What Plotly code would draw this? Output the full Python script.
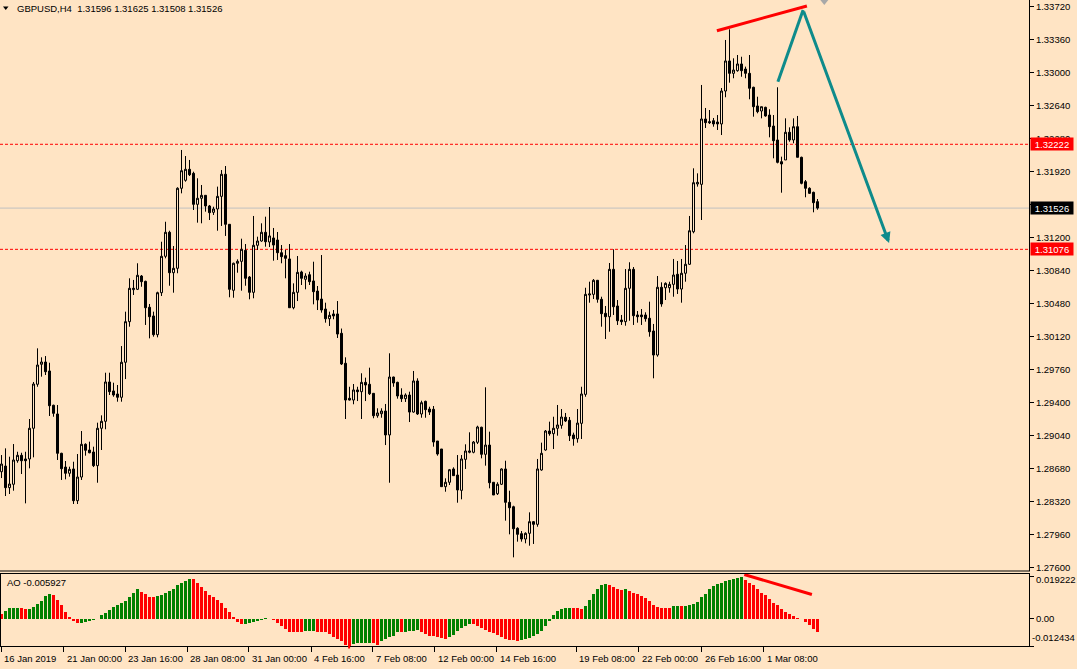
import plotly.graph_objects as go

# ---------------- data ----------------
symbol = "GBPUSD,H4"

opens = [
    1.28941, 1.28650, 1.28712, 1.28476, 1.28513, 1.28770, 1.28829, 1.28789, 1.28789, 1.29124,
    1.29604, 1.29822, 1.29847, 1.29749, 1.29375, 1.29280, 1.28851, 1.28701, 1.28633, 1.28680,
    1.28334, 1.28592, 1.28949, 1.28887, 1.28865, 1.28716, 1.29124, 1.29200, 1.29629, 1.29531,
    1.29498, 1.29462, 1.29844, 1.30287, 1.30636, 1.30640, 1.30785, 1.30727, 1.30444, 1.30349,
    1.30145, 1.30603, 1.31000, 1.31262, 1.30821, 1.30869, 1.31742, 1.31829, 1.31949, 1.31905,
    1.31567, 1.31633, 1.31665, 1.31549, 1.31480, 1.31516, 1.31654, 1.31895, 1.31349, 1.30629,
    1.30924, 1.30945, 1.31065, 1.30774, 1.30607, 1.31120, 1.31167, 1.31262, 1.31156, 1.31200,
    1.31178, 1.31039, 1.31007, 1.30971, 1.30439, 1.30607, 1.30829, 1.30749, 1.30799, 1.30731,
    1.30621, 1.30534, 1.30425, 1.30319, 1.30371, 1.30371, 1.30160, 1.29833, 1.29451, 1.29432,
    1.29542, 1.29523, 1.29625, 1.29604, 1.29505, 1.29261, 1.29283, 1.29312, 1.29051, 1.29683,
    1.29625, 1.29487, 1.29447, 1.29487, 1.29301, 1.29640, 1.29280, 1.29418, 1.29334, 1.29331,
    1.28985, 1.28898, 1.28487, 1.28535, 1.28680, 1.28614, 1.28447, 1.28785, 1.28862, 1.28862,
    1.28971, 1.29135, 1.28840, 1.28941, 1.28535, 1.28410, 1.28513, 1.28680, 1.28316, 1.28268,
    1.28033, 1.27974, 1.27916, 1.27978, 1.28105, 1.28076, 1.28669, 1.28887, 1.29094, 1.29065,
    1.29124, 1.29156, 1.29244, 1.29211, 1.29051, 1.29010, 1.29178, 1.29494, 1.30578, 1.30585,
    1.30738, 1.30531, 1.30378, 1.30341, 1.30858, 1.30458, 1.30305, 1.30287, 1.30651, 1.30858,
    1.30360, 1.30360, 1.30360, 1.30324, 1.30185, 1.29923, 1.30662, 1.30657, 1.30657, 1.30694,
    1.30804, 1.30643, 1.30815, 1.30913, 1.31268, 1.31789, 1.31785, 1.32498, 1.32469, 1.32479,
    1.32465, 1.32444, 1.32803, 1.33131, 1.32996, 1.33025, 1.33098, 1.33043, 1.32996, 1.32844,
    1.32640, 1.32585, 1.32625, 1.32541, 1.32421, 1.32269, 1.32032, 1.32051, 1.32353, 1.32269,
    1.32414, 1.32080, 1.31814, 1.31742, 1.31698, 1.31596,
]

highs = [
    1.28996, 1.28832, 1.28905, 1.28814, 1.28952, 1.28868, 1.28857, 1.28868, 1.29225, 1.29629,
    1.29996, 1.29898, 1.29912, 1.29839, 1.29381, 1.29378, 1.28857, 1.28767, 1.28705, 1.28759,
    1.28843, 1.29094, 1.28960, 1.28978, 1.28923, 1.29185, 1.29265, 1.29730, 1.29730, 1.29621,
    1.29596, 1.30021, 1.30396, 1.30760, 1.30742, 1.30924, 1.30796, 1.30734, 1.30480, 1.30396,
    1.30614, 1.31159, 1.31377, 1.31279, 1.31112, 1.31753, 1.32160, 1.32094, 1.32051, 1.31923,
    1.31851, 1.31778, 1.31669, 1.31560, 1.31541, 1.31760, 1.31941, 1.31985, 1.31352, 1.30931,
    1.30967, 1.31192, 1.31134, 1.30785, 1.31440, 1.31214, 1.31360, 1.31432, 1.31538, 1.31309,
    1.31265, 1.31123, 1.31069, 1.31134, 1.30705, 1.31003, 1.30843, 1.30815, 1.30832, 1.30941,
    1.30676, 1.31014, 1.30494, 1.30396, 1.30414, 1.30512, 1.30212, 1.29898, 1.29577, 1.29607,
    1.29577, 1.29724, 1.29676, 1.29785, 1.29509, 1.29342, 1.29342, 1.29389, 1.29942, 1.29687,
    1.29632, 1.29560, 1.29505, 1.29523, 1.29749, 1.29669, 1.29425, 1.29425, 1.29359, 1.29367,
    1.28985, 1.28898, 1.28578, 1.28680, 1.28698, 1.28832, 1.28832, 1.28949, 1.29080, 1.28985,
    1.29152, 1.29141, 1.29571, 1.29087, 1.28535, 1.28535, 1.28687, 1.28770, 1.28443, 1.28279,
    1.28044, 1.28003, 1.27989, 1.28207, 1.28112, 1.28789, 1.28967, 1.29105, 1.29196, 1.29250,
    1.29378, 1.29334, 1.29291, 1.29247, 1.29076, 1.29334, 1.29577, 1.30657, 1.30723, 1.30752,
    1.30742, 1.30559, 1.30458, 1.30927, 1.31076, 1.30523, 1.30360, 1.30861, 1.30935, 1.30883,
    1.30403, 1.30425, 1.30389, 1.30505, 1.30262, 1.30785, 1.30716, 1.30716, 1.30723, 1.30971,
    1.30949, 1.30971, 1.31123, 1.31440, 1.31960, 1.31905, 1.32869, 1.32618, 1.32596, 1.32509,
    1.32541, 1.32836, 1.33360, 1.33476, 1.33160, 1.33196, 1.33177, 1.33069, 1.33196, 1.32850,
    1.32741, 1.32632, 1.32632, 1.32604, 1.32541, 1.32844, 1.32087, 1.32505, 1.32407, 1.32505,
    1.32531, 1.32087, 1.31832, 1.31753, 1.31705, 1.31625,
]

lows = [
    1.28363, 1.28581, 1.28385, 1.28407, 1.28443, 1.28748, 1.28625, 1.28305, 1.28687, 1.28807,
    1.29577, 1.29687, 1.29705, 1.29258, 1.29250, 1.28778, 1.28560, 1.28567, 1.28596, 1.28298,
    1.28298, 1.28560, 1.28825, 1.28851, 1.28701, 1.28530, 1.28887, 1.29113, 1.29487, 1.29468,
    1.29414, 1.29414, 1.29661, 1.30232, 1.30578, 1.30632, 1.30668, 1.30251, 1.30105, 1.30123,
    1.30116, 1.30567, 1.30978, 1.30679, 1.30603, 1.30815, 1.31687, 1.31814, 1.31876, 1.31505,
    1.31367, 1.31360, 1.31487, 1.31396, 1.31451, 1.31279, 1.31331, 1.31222, 1.30553, 1.30548,
    1.30821, 1.30625, 1.30679, 1.30531, 1.30542, 1.31069, 1.31159, 1.31105, 1.31101, 1.30952,
    1.30960, 1.30924, 1.30760, 1.30439, 1.30422, 1.30512, 1.30687, 1.30640, 1.30687, 1.30476,
    1.30414, 1.30385, 1.30276, 1.30240, 1.30313, 1.30109, 1.29814, 1.29225, 1.29427, 1.29386,
    1.29421, 1.29225, 1.29421, 1.29487, 1.29233, 1.29239, 1.29239, 1.28941, 1.28530, 1.29577,
    1.29447, 1.29411, 1.29411, 1.29192, 1.29294, 1.29269, 1.29239, 1.29239, 1.29269, 1.28923,
    1.28825, 1.28487, 1.28432, 1.28505, 1.28604, 1.28312, 1.28349, 1.28680, 1.28851, 1.28851,
    1.28952, 1.28796, 1.28716, 1.28469, 1.28396, 1.28396, 1.28505, 1.28116, 1.27967, 1.27716,
    1.27887, 1.27887, 1.27869, 1.27843, 1.27862, 1.28050, 1.28661, 1.28879, 1.29043, 1.28898,
    1.29043, 1.29119, 1.29192, 1.28985, 1.28934, 1.28967, 1.29007, 1.29468, 1.30494, 1.30534,
    1.30494, 1.30232, 1.30098, 1.30177, 1.30360, 1.30251, 1.30251, 1.30243, 1.30297, 1.30251,
    1.30276, 1.30251, 1.30287, 1.30123, 1.29669, 1.29905, 1.30450, 1.30523, 1.30603, 1.30559,
    1.30589, 1.30494, 1.30723, 1.30905, 1.31251, 1.31760, 1.31396, 1.32400, 1.32444, 1.32414,
    1.32378, 1.32323, 1.32735, 1.32894, 1.32942, 1.33014, 1.32959, 1.32942, 1.32713, 1.32523,
    1.32560, 1.32505, 1.32523, 1.32298, 1.32069, 1.32014, 1.31694, 1.32051, 1.32250, 1.32233,
    1.32080, 1.31785, 1.31644, 1.31680, 1.31480, 1.31508,
]

closes = [
    1.28396, 1.28734, 1.28476, 1.28516, 1.28778, 1.28829, 1.28770, 1.28770, 1.29124, 1.29607,
    1.29814, 1.29847, 1.29741, 1.29370, 1.29287, 1.28851, 1.28683, 1.28633, 1.28676, 1.28334,
    1.28592, 1.28949, 1.28884, 1.28857, 1.28716, 1.29124, 1.29200, 1.29629, 1.29523, 1.29487,
    1.29462, 1.29844, 1.30287, 1.30651, 1.30651, 1.30793, 1.30723, 1.30439, 1.30341, 1.30145,
    1.30603, 1.31000, 1.31262, 1.30821, 1.30869, 1.31742, 1.31934, 1.31949, 1.31890, 1.31567,
    1.31633, 1.31665, 1.31549, 1.31476, 1.31516, 1.31654, 1.31895, 1.31349, 1.30640, 1.30924,
    1.30945, 1.31076, 1.30760, 1.30607, 1.31120, 1.31167, 1.31262, 1.31159, 1.31222, 1.31123,
    1.31039, 1.30996, 1.30978, 1.30439, 1.30607, 1.30825, 1.30760, 1.30785, 1.30723, 1.30614,
    1.30523, 1.30414, 1.30319, 1.30356, 1.30349, 1.30152, 1.29825, 1.29432, 1.29432, 1.29542,
    1.29523, 1.29625, 1.29596, 1.29501, 1.29261, 1.29291, 1.29312, 1.29051, 1.29683, 1.29618,
    1.29476, 1.29447, 1.29487, 1.29301, 1.29640, 1.29280, 1.29403, 1.29327, 1.29301, 1.28974,
    1.28843, 1.28487, 1.28535, 1.28672, 1.28607, 1.28451, 1.28789, 1.28876, 1.28876, 1.28974,
    1.29138, 1.28840, 1.28941, 1.28530, 1.28396, 1.28513, 1.28680, 1.28316, 1.28257, 1.28028,
    1.27967, 1.27916, 1.27978, 1.28105, 1.28076, 1.28680, 1.28851, 1.29094, 1.29065, 1.29124,
    1.29160, 1.29247, 1.29203, 1.29043, 1.29010, 1.29181, 1.29498, 1.30585, 1.30589, 1.30738,
    1.30531, 1.30374, 1.30341, 1.30858, 1.30450, 1.30297, 1.30287, 1.30651, 1.30858, 1.30352,
    1.30341, 1.30341, 1.30319, 1.30177, 1.29923, 1.30662, 1.30480, 1.30705, 1.30694, 1.30796,
    1.30643, 1.30815, 1.30913, 1.31279, 1.31803, 1.31807, 1.32498, 1.32458, 1.32458, 1.32444,
    1.32444, 1.32803, 1.33131, 1.32996, 1.33032, 1.33098, 1.33025, 1.32996, 1.32833, 1.32632,
    1.32578, 1.32632, 1.32531, 1.32414, 1.32261, 1.32025, 1.32007, 1.32353, 1.32269, 1.32414,
    1.32080, 1.31796, 1.31742, 1.31687, 1.31585, 1.31526,
]

ao_values = [
    0.0026, 0.00229, 0.00336, 0.00503, 0.00505, 0.00508, 0.00506, 0.00442, 0.00458, 0.00564,
    0.00702, 0.00839, 0.01068, 0.01114, 0.01110, 0.00870, 0.00656, 0.00320, 0.00092, -0.00107,
    -0.00198, -0.00195, -0.00153, -0.00107, -0.00061, -0.00030, 0.00153, 0.00290, 0.00412, 0.00519,
    0.00625, 0.00717, 0.00839, 0.00992, 0.01175, 0.01358, 0.01220, 0.01114, 0.01007, 0.00992,
    0.01040, 0.01100, 0.01170, 0.01266, 0.01388, 0.01526, 0.01632, 0.01739, 0.01831, 0.01820,
    0.01663, 0.01480, 0.01297, 0.01098, 0.01022, 0.00870, 0.00717, 0.00503, 0.00305, 0.00107,
    -0.00122, -0.00229, -0.00220, -0.00198, -0.00153, -0.00107, -0.00046, 0.00030, -0.00010, -0.00076,
    -0.00168, -0.00305, -0.00458, -0.00580, -0.00595, -0.00600, -0.00610, -0.00549, -0.00545, -0.00540,
    -0.00595, -0.00610, -0.00620, -0.00686, -0.00809, -0.00931, -0.01037, -0.01175, -0.012434, -0.01144,
    -0.01098, -0.01095, -0.01092, -0.01090, -0.01114, -0.01220, -0.01022, -0.00931, -0.00839, -0.00763,
    -0.00595, -0.00610, -0.00580, -0.00549, -0.00540, -0.00519, -0.00595, -0.00686, -0.00763, -0.00793,
    -0.00854, -0.00885, -0.00915, -0.00854, -0.00717, -0.00564, -0.00442, -0.00320, -0.00229, -0.00259,
    -0.00320, -0.00412, -0.00503, -0.00595, -0.00656, -0.00747, -0.00839, -0.00915, -0.00960, -0.00990,
    -0.01000, -0.00970, -0.00930, -0.00880, -0.00800, -0.00680, -0.00534, -0.00305, -0.00092, 0.00183,
    0.00366, 0.00458, 0.00503, 0.00505, 0.00504, 0.00500, 0.00458, 0.00610, 0.00870, 0.01144,
    0.01373, 0.01556, 0.01602, 0.01526, 0.01465, 0.01373, 0.01327, 0.01373, 0.01281, 0.01190,
    0.01144, 0.01053, 0.00961, 0.00824, 0.00641, 0.00549, 0.00503, 0.00500, 0.00497, 0.00595,
    0.00597, 0.00594, 0.00600, 0.00641, 0.00702, 0.00793, 0.01007, 0.01144, 0.01373, 0.01510,
    0.01602, 0.01648, 0.01739, 0.01785, 0.01831, 0.01890, 0.019222, 0.01785, 0.01648, 0.01556,
    0.01373, 0.01190, 0.01098, 0.00915, 0.00732, 0.00641, 0.00458, 0.00320, 0.00229, 0.00137,
    0.00046, -0.00030, -0.00160, -0.00300, -0.00450, -0.005927,
]

price_ticks = [1.27600, 1.27960, 1.28320, 1.28680, 1.29040, 1.29400, 1.29760, 1.30120, 1.30480,
               1.30840, 1.31200, 1.31560, 1.31920, 1.32280, 1.32640, 1.33000, 1.33360, 1.33720]
price_range = [1.27567, 1.33796]
ao_range = [-0.012434, 0.02052]
ao_max, ao_min = 0.019222, -0.012434

date_labels = ["16 Jan 2019", "21 Jan 00:00", "23 Jan 16:00", "28 Jan 08:00", "31 Jan 00:00",
               "4 Feb 16:00", "7 Feb 08:00", "12 Feb 00:00", "14 Feb 16:00", "19 Feb 08:00",
               "22 Feb 00:00", "26 Feb 16:00", "1 Mar 08:00"]
date_pos = [0.93, 16.5, 31.9, 47.4, 62.85, 78.4, 93.85, 109.35, 124.85, 144.7, 160.35, 176.0, 191.5]

red_levels = [1.32222, 1.31076]

# drawn objects (bar index, value)
red_trend_x, red_trend_y = [179.85, 202.35], [1.33461, 1.33731]
teal_up_x, teal_up_y = [195.1, 201.4], [1.32905, 1.33687]
teal_down_x, teal_down_y = [201.4, 222.9], [1.33687, 1.31145]
ao_trend_x, ao_trend_y = [186.7, 203.6], [0.02027, 0.01112]
shift_marker_x = [205.7, 207.7]
axis_marker_x = 87.9
x_view = [0.625, 257.875]

# ---------------- styling ----------------
BG = "#FFE4C4"
TEAL = "#0E8B8B"
RED = "#FF0000"
GREEN = "#008000"
FONT = "Liberation Sans, Arial, sans-serif"
FS = 9.5

W, H = 1077, 669
ML, MR, MT, MB = 0, 48, 0, 23
PW, PH = W - ML - MR, H - MT - MB


def px_x(x):
    return x / PW


def px_y(y):
    return (PH - y) / PH


bars = list(range(len(opens)))
ao_colors = [GREEN if i > 0 and ao_values[i] > ao_values[i - 1] else RED for i in range(len(ao_values))]

fig = go.Figure()
fig.add_trace(go.Candlestick(
    x=bars, open=opens, high=highs, low=lows, close=closes,
    increasing=dict(line=dict(color="black", width=1), fillcolor=BG),
    decreasing=dict(line=dict(color="black", width=1), fillcolor="black"),
    whiskerwidth=0, hoverinfo="skip", showlegend=False, xaxis="x", yaxis="y",
))
fig.add_trace(go.Bar(
    x=bars, y=ao_values, width=0.75,
    marker=dict(color=ao_colors, line=dict(width=0)),
    hoverinfo="skip", showlegend=False, xaxis="x", yaxis="y2",
))

shapes = []
for lv in red_levels:
    shapes.append(dict(type="line", xref="paper", x0=0, x1=1, yref="y", y0=lv, y1=lv,
                       line=dict(color=RED, width=1, dash="3px,2px"), layer="below"))
shapes.append(dict(type="line", xref="paper", x0=0, x1=1, yref="y", y0=closes[-1], y1=closes[-1],
                   line=dict(color="#C0C0C0", width=1), layer="below"))
# panel separator
for yy in (571, 573.5):
    shapes.append(dict(type="line", xref="paper", x0=0, x1=px_x(PW + 1), yref="paper",
                       y0=px_y(yy), y1=px_y(yy), line=dict(color="black", width=1)))
# AO frame left
shapes.append(dict(type="line", xref="paper", x0=px_x(0.5), x1=px_x(0.5), yref="paper",
                   y0=0, y1=px_y(573.5), line=dict(color="black", width=1)))
# trend lines
shapes.append(dict(type="line", xref="x", yref="y", x0=red_trend_x[0], y0=red_trend_y[0],
                   x1=red_trend_x[1], y1=red_trend_y[1], line=dict(color=RED, width=3)))
shapes.append(dict(type="line", xref="x", yref="y", x0=teal_up_x[0], y0=teal_up_y[0],
                   x1=teal_up_x[1], y1=teal_up_y[1], line=dict(color=TEAL, width=3)))
shapes.append(dict(type="line", xref="x", yref="y2", x0=ao_trend_x[0], y0=ao_trend_y[0],
                   x1=ao_trend_x[1], y1=ao_trend_y[1], line=dict(color=RED, width=3)))
# chart shift marker
mx0, mx1 = shift_marker_x
shapes.append(dict(type="path", xref="x", yref="paper",
                   path=f"M {mx0},{px_y(0)} L {mx1},{px_y(0)} L {(mx0 + mx1) / 2},{px_y(5)} Z",
                   fillcolor="#A8A8A8", line=dict(width=0)))
# small red marker on the time axis
shapes.append(dict(type="line", xref="x", yref="paper", x0=axis_marker_x, x1=axis_marker_x,
                   y0=px_y(PH - 0.5), y1=px_y(PH + 2.5), line=dict(color=RED, width=2)))
# header triangle
shapes.append(dict(type="path", xref="paper", yref="paper",
                   path=f"M {px_x(3)},{px_y(6.5)} L {px_x(8.5)},{px_y(6.5)} L {px_x(5.75)},{px_y(10)} Z",
                   fillcolor="black", line=dict(width=0)))

annotations = []
# teal arrow
annotations.append(dict(x=teal_down_x[1], y=teal_down_y[1], ax=teal_down_x[0], ay=teal_down_y[0],
                        xref="x", yref="y", axref="x", ayref="y", text="", showarrow=True,
                        arrowhead=2, arrowsize=0.7, arrowwidth=3, arrowcolor=TEAL, standoff=0))
# header
annotations.append(dict(xref="paper", yref="paper", x=px_x(15), y=px_y(8.5), xanchor="left",
                        yanchor="middle", showarrow=False,
                        text=f"{symbol}\u00a0\u00a0{opens[-1]:.5f} {highs[-1]:.5f} {lows[-1]:.5f} {closes[-1]:.5f}",
                        font=dict(family=FONT, size=FS, color="black")))
annotations.append(dict(xref="paper", yref="paper", x=px_x(5), y=px_y(582), xanchor="left",
                        yanchor="middle", showarrow=False, text=f"AO {ao_values[-1]:.6f}",
                        font=dict(family=FONT, size=FS, color="black")))
# date labels
for lab, pos in zip(date_labels, date_pos):
    annotations.append(dict(xref="x", yref="paper", x=pos, y=0, yshift=-12, xshift=1,
                            xanchor="left", yanchor="middle", showarrow=False, text=lab,
                            font=dict(family=FONT, size=FS, color="black")))
# price level boxes
for lv, col in [(red_levels[0], RED), (red_levels[1], RED), (closes[-1], "black")]:
    annotations.append(dict(xref="paper", yref="y", x=1, y=lv, xshift=1, xanchor="left",
                            yanchor="middle", showarrow=False, text=f"{lv:.5f}", bgcolor=col,
                            width=42, height=12, borderpad=0, align="center",
                            font=dict(family=FONT, size=FS, color="white")))
# AO extremes
annotations.append(dict(xref="paper", yref="paper", x=1, y=px_y(579), xshift=5, xanchor="left",
                        yanchor="middle", showarrow=False, text=f"{ao_max:.6f}",
                        font=dict(family=FONT, size=FS, color="black")))
annotations.append(dict(xref="paper", yref="paper", x=1, y=px_y(637), xshift=1, xanchor="left",
                        yanchor="middle", showarrow=False, text=f"{ao_min:.6f}",
                        font=dict(family=FONT, size=FS, color="black")))

fig.update_layout(
    width=W, height=H,
    margin=dict(l=ML, r=MR, t=MT, b=MB, pad=0),
    paper_bgcolor=BG, plot_bgcolor=BG, showlegend=False,
    boxgap=0.5, boxgroupgap=0, bargap=0,
    font=dict(family=FONT, size=FS, color="black"),
    xaxis=dict(domain=[0, 1], range=x_view, anchor="y2", rangeslider=dict(visible=False),
               showgrid=False, zeroline=False, showline=True, linecolor="black", linewidth=1,
               tickmode="array", tickvals=date_pos, showticklabels=False,
               ticks="outside", ticklen=5, tickwidth=1, tickcolor="black", fixedrange=True),
    yaxis=dict(domain=[px_y(571), 1], range=price_range, side="right", anchor="x",
               showgrid=False, zeroline=False, showline=True, linecolor="black", linewidth=1,
               tickmode="array", tickvals=price_ticks, ticktext=[f"{t:.5f}" for t in price_ticks],
               ticks="outside", ticklen=4, tickwidth=1, tickcolor="black",
               tickfont=dict(family=FONT, size=FS, color="black"), fixedrange=True),
    yaxis2=dict(domain=[0, px_y(574)], range=ao_range, side="right", anchor="x",
                showgrid=False, zeroline=False, showline=True, linecolor="black", linewidth=1,
                tickmode="array", tickvals=[ao_max, 0.0, ao_min], ticktext=["", "0.00", ""],
                ticks="outside", ticklen=4, tickwidth=1, tickcolor="black",
                tickfont=dict(family=FONT, size=FS, color="black"), fixedrange=True),
    shapes=shapes,
    annotations=annotations,
)

fig.write_html(
    "out.html",
    config={"displayModeBar": False, "staticPlot": True},
    post_script="document.body.style.margin='0px';document.body.style.padding='0px';"
                "document.body.style.overflow='hidden';document.body.style.background='" + BG + "';",
)
